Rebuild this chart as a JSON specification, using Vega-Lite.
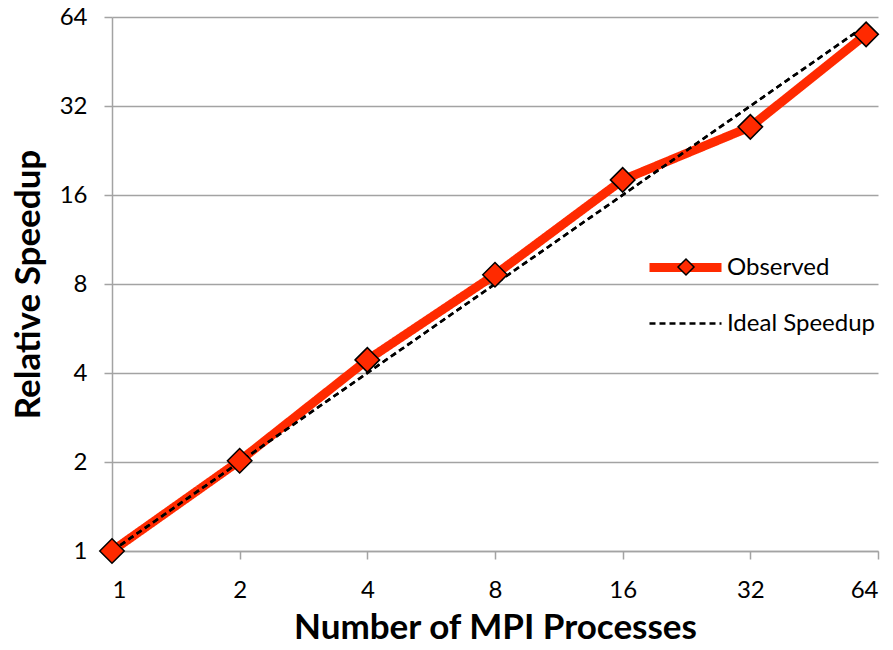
{
  "$schema": "https://vega.github.io/schema/vega-lite/v6.json",
  "width": 766,
  "height": 534,
  "autosize": {"type": "none"},
  "padding": {"left": 112, "top": 17, "right": 15, "bottom": 99},
  "background": "white",
  "config": {
    "view": {"stroke": null},
    "font": "Lato",
    "axis": {
      "domainColor": "#a3a3a3",
      "domainWidth": 1.5,
      "tickColor": "#a3a3a3",
      "tickWidth": 1.5,
      "tickSize": 8,
      "gridColor": "#a3a3a3",
      "gridWidth": 1.5,
      "labelFont": "Lato",
      "labelFontSize": 24,
      "labelColor": "#000000",
      "titleFont": "Lato",
      "titleFontSize": 35,
      "titleFontWeight": "bold",
      "titleColor": "#000000"
    }
  },
  "data": {
    "values": [
      {"procs": 1, "speedup": 1, "series": "Observed"},
      {"procs": 2, "speedup": 2.02, "series": "Observed"},
      {"procs": 4, "speedup": 4.43, "series": "Observed"},
      {"procs": 8, "speedup": 8.6, "series": "Observed"},
      {"procs": 16, "speedup": 18.0, "series": "Observed"},
      {"procs": 32, "speedup": 27.2, "series": "Observed"},
      {"procs": 60, "speedup": 55.9, "series": "Observed"},
      {"procs": 1, "speedup": 1, "series": "Ideal Speedup"},
      {"procs": 2, "speedup": 2, "series": "Ideal Speedup"},
      {"procs": 4, "speedup": 4, "series": "Ideal Speedup"},
      {"procs": 8, "speedup": 8, "series": "Ideal Speedup"},
      {"procs": 16, "speedup": 16, "series": "Ideal Speedup"},
      {"procs": 32, "speedup": 32, "series": "Ideal Speedup"},
      {"procs": 60, "speedup": 60, "series": "Ideal Speedup"}
    ]
  },
  "encoding": {
    "x": {
      "field": "procs",
      "type": "quantitative",
      "scale": {"type": "log", "base": 2, "domain": [1, 64], "nice": false},
      "axis": {
        "values": [1, 2, 4, 8, 16, 32, 64],
        "grid": false,
        "labelPadding": 19,
        "titlePadding": 8,
        "title": "Number of MPI Processes"
      }
    },
    "y": {
      "field": "speedup",
      "type": "quantitative",
      "scale": {"type": "log", "base": 2, "domain": [1, 64], "nice": false},
      "axis": {
        "values": [1, 2, 4, 8, 16, 32, 64],
        "grid": true,
        "labelPadding": 17,
        "titlePadding": 13,
        "title": "Relative Speedup"
      }
    }
  },
  "layer": [
    {
      "mark": {"type": "line", "strokeJoin": "round"},
      "encoding": {
        "color": {
          "field": "series",
          "type": "nominal",
          "scale": {"domain": ["Observed", "Ideal Speedup"], "range": ["#ff2a00", "#000000"]},
          "legend": {
            "orient": "none",
            "legendX": 533,
            "legendY": 210,
            "title": null,
            "padding": 0,
            "symbolType": "stroke",
            "symbolSize": 5184,
            "labelFontSize": 24,
            "labelFont": "Lato",
            "labelColor": "#000000",
            "labelOffset": 1,
            "rowPadding": -24
          }
        },
        "strokeDash": {
          "field": "series",
          "type": "nominal",
          "scale": {"domain": ["Observed", "Ideal Speedup"], "range": [[1, 0], [6, 4]]}
        },
        "strokeWidth": {
          "field": "series",
          "type": "ordinal",
          "scale": {"domain": ["Observed", "Ideal Speedup"], "range": [9, 2.5]}
        }
      }
    },
    {
      "transform": [{"filter": "datum.series === 'Ideal Speedup'"}],
      "mark": {"type": "line", "stroke": "#000000", "strokeWidth": 2.5, "strokeDash": [6, 4]},
      "encoding": {}
    },
    {
      "transform": [{"filter": "datum.series === 'Observed'"}],
      "mark": {"type": "point", "filled": true, "fill": "#ff2a00", "stroke": "#000000", "strokeWidth": 1.5, "size": 600, "opacity": 1},
      "encoding": {
        "shape": {
          "field": "series",
          "type": "nominal",
          "scale": {"range": ["diamond"]},
          "legend": {
            "orient": "none",
            "legendX": 562,
            "legendY": 238,
            "title": null,
            "padding": 0,
            "symbolSize": 256,
            "labelExpr": "''",
            "labelFontSize": 24,
            "encode": {
              "symbols": {
                "update": {
                  "fill": {"value": "#ff2a00"},
                  "stroke": {"value": "#000000"},
                  "strokeWidth": {"value": 1.5},
                  "opacity": {"value": 1}
                }
              }
            }
          }
        }
      }
    }
  ]
}
